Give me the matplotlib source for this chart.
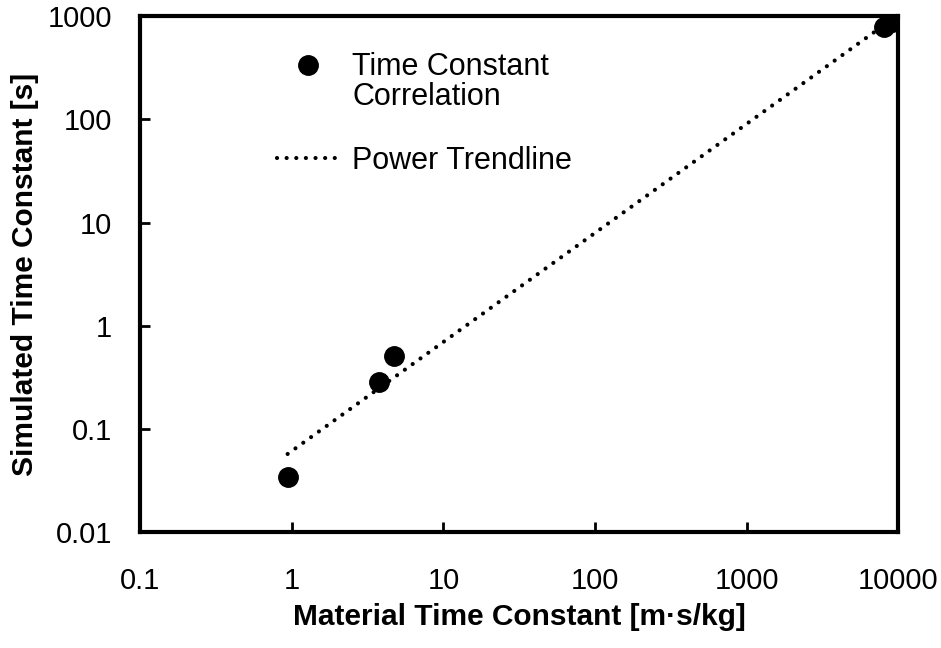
import numpy as np
import matplotlib
matplotlib.use("Agg")
import matplotlib.pyplot as plt
from matplotlib.legend_handler import HandlerLine2D

# datos
material_tc = [0.94, 3.75, 4.75, 8000, 9000]      # m·s/kg
simulated_tc = [0.034, 0.286, 0.51, 780, 870]     # s

plt.rcParams["font.family"] = ["Liberation Sans", "DejaVu Sans"]


class HandlerArriba(HandlerLine2D):
    # sube el marcador para alinearlo con la primera línea del texto
    def create_artists(self, legend, orig_handle, xdescent, ydescent,
                       width, height, fontsize, trans):
        arts = super().create_artists(legend, orig_handle, xdescent, ydescent,
                                      width, height, fontsize, trans)
        for a in arts:
            a.set_ydata(np.asarray(a.get_ydata()) + 0.58 * fontsize)
        return arts


fig = plt.figure(figsize=(9.41, 6.48), dpi=100)
ax = fig.add_axes([0.1488, 0.179, 0.806, 0.796])

# trendline potencia: ajuste lineal en log-log
lx = np.log10(material_tc)
ly = np.log10(simulated_tc)
b, a = np.polyfit(lx, ly, 1)
xt = np.logspace(np.log10(min(material_tc)), np.log10(max(material_tc)), 200)
yt = 10 ** a * xt ** b

puntos, = ax.plot(material_tc, simulated_tc, "o", color="black", markersize=14,
                  linestyle="none", label="Time Constant\nCorrelation", zorder=3)
ax.plot(xt, yt, color="black", lw=3, linestyle=(0, (0.01, 2.3)),
        dash_capstyle="round", label="Power Trendline")

ax.set_xscale("log")
ax.set_yscale("log")
ax.set_xlim(0.1, 10000)
ax.set_ylim(0.01, 1000)
ax.set_xticks([0.1, 1, 10, 100, 1000, 10000])
ax.set_xticklabels(["0.1", "1", "10", "100", "1000", "10000"])
ax.set_yticks([0.01, 0.1, 1, 10, 100, 1000])
ax.set_yticklabels(["0.01", "0.1", "1", "10", "100", "1000"])
ax.minorticks_off()
ax.tick_params(direction="in", length=7, width=2, labelsize=21, pad=20)
ax.tick_params(axis="x", pad=25)
for s in ax.spines.values():
    s.set_linewidth(3)

ax.set_xlabel("Material Time Constant [m·s/kg]", fontsize=21.5, fontweight="bold", labelpad=6)
ax.set_ylabel("Simulated Time Constant [s]", fontsize=21.5, fontweight="bold", labelpad=6)

leg = ax.legend(loc="upper left", bbox_to_anchor=(277 / 941, 1 - 52 / 648),
                bbox_transform=fig.transFigure, frameon=False, fontsize=22,
                handlelength=2.03, handletextpad=0.43, borderpad=0, borderaxespad=0,
                labelspacing=1.1, handler_map={puntos: HandlerArriba()})
for t in leg.get_texts():
    t.set_linespacing(1.02)

fig.savefig("out.png", dpi=100)
